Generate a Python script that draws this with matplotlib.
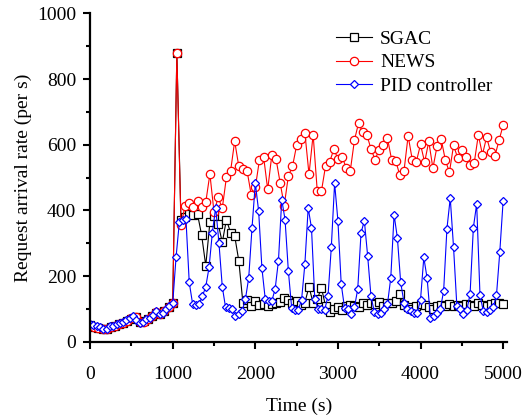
import numpy as np
import matplotlib
matplotlib.use('Agg')
import matplotlib.pyplot as plt
from matplotlib.ticker import MultipleLocator

# request arrival rate, SGAC and NEWS sampled every 50 s
sgac = [52, 47, 43, 40, 39, 46, 50, 54, 58, 64, 70, 75, 62, 63, 70, 78, 88, 86, 95, 106, 118,
        880, 370, 380, 389, 385, 389, 325, 232, 364, 382,
        360, 303, 372, 333, 323, 247, 118, 127, 108, 125,
        112, 117, 110, 115, 118, 122, 135, 128, 120, 125,
        112, 120, 168, 118, 130, 165, 110, 92, 100, 105,
        98, 108, 112, 110, 105, 118, 112, 120, 115, 122,
        110, 118, 120, 125, 145, 112, 105, 100, 108, 115,
        112, 105, 100, 108, 112, 110, 115, 108, 112, 110,
        115, 112, 110, 118, 112, 110, 115, 120, 118, 117]

news = [50, 46, 42, 40, 38, 45, 50, 55, 58, 65, 72, 76, 60, 62, 70, 78, 90, 85, 95, 105, 118,
        880, 355, 415, 422, 410, 430, 412, 425, 511, 395,
        440, 407, 501, 519, 611, 534, 526, 521, 448, 470,
        554, 564, 464, 569, 558, 485, 415, 505, 534, 598,
        618, 637, 510, 631, 459, 458, 535, 548, 586, 558,
        564, 530, 521, 614, 666, 638, 631, 587, 555, 585,
        600, 620, 555, 551, 507, 520, 627, 555, 549, 601,
        547, 610, 529, 595, 618, 554, 516, 598, 560, 584,
        564, 537, 544, 630, 570, 623, 577, 565, 613, 659]

# PID controller sampled every 40 s
pid = [55, 52, 48, 44, 40, 38, 50, 48, 54, 57,
       62, 67, 74, 78, 68, 58, 62, 70, 74, 82,
       95, 86, 88, 100, 110, 118, 257, 364, 370, 375,
       181, 117, 112, 115, 140, 168, 227, 333, 409, 300,
       168, 105, 103, 101, 79, 85, 94, 130, 195, 347,
       483, 399, 224, 131, 125, 125, 161, 247, 433, 372,
       216, 104, 98, 98, 128, 237, 408, 347, 131, 100,
       100, 98, 140, 288, 483, 369, 176, 104, 100, 86,
       105, 161, 332, 369, 262, 140, 92, 86, 89, 100,
       115, 195, 387, 317, 181, 120, 100, 94, 89, 89,
       128, 257, 194, 74, 79, 89, 100, 155, 345, 438,
       288, 110, 100, 84, 97, 145, 348, 420, 143, 94,
       92, 97, 105, 143, 274, 428]

t50 = np.arange(len(sgac)) * 50
t40 = np.arange(len(pid)) * 40

plt.rcParams['font.family'] = ['Liberation Serif', 'DejaVu Serif']
plt.rcParams['font.size'] = 14

fig = plt.figure(figsize=(5.24, 4.16), dpi=100)
ax = fig.add_axes([0.172, 0.178, 0.796, 0.79])

ax.plot(t50, sgac, '-', color='black', lw=0.8, marker='s', ms=5.2,
        mfc='white', mec='black', mew=0.9, label='SGAC')
ax.plot(t50, news, '-', color='red', lw=0.8, marker='o', ms=6.0,
        mfc='white', mec='red', mew=0.9, label='NEWS')
ax.plot(t40, pid, '-', color='blue', lw=0.8, marker='D', ms=4.4,
        mfc='white', mec='blue', mew=0.9, label='PID controller')

ax.set_xlim(0, 5050)
ax.set_ylim(0, 1000)
ax.xaxis.set_major_locator(MultipleLocator(1000))
ax.xaxis.set_minor_locator(MultipleLocator(500))
ax.yaxis.set_major_locator(MultipleLocator(200))
ax.yaxis.set_minor_locator(MultipleLocator(100))
ax.tick_params(which='major', direction='out', length=5, width=1.5, pad=5)
ax.tick_params(which='minor', direction='out', length=3, width=1.5)
ax.tick_params(axis='x', which='major', pad=12)

for s in ['top', 'right']:
    ax.spines[s].set_visible(False)
for s in ['left', 'bottom']:
    ax.spines[s].set_linewidth(1.6)

ax.set_xlabel('Time (s)', labelpad=11)
ax.set_ylabel('Request arrival rate (per s)', labelpad=4)

ax.legend(loc='upper left', bbox_to_anchor=(0.59, 0.948), frameon=False,
          borderpad=0, borderaxespad=0, handlelength=1.85, handletextpad=0.4,
          labelspacing=0.3, fontsize=14)

fig.savefig('out.png', dpi=100)
